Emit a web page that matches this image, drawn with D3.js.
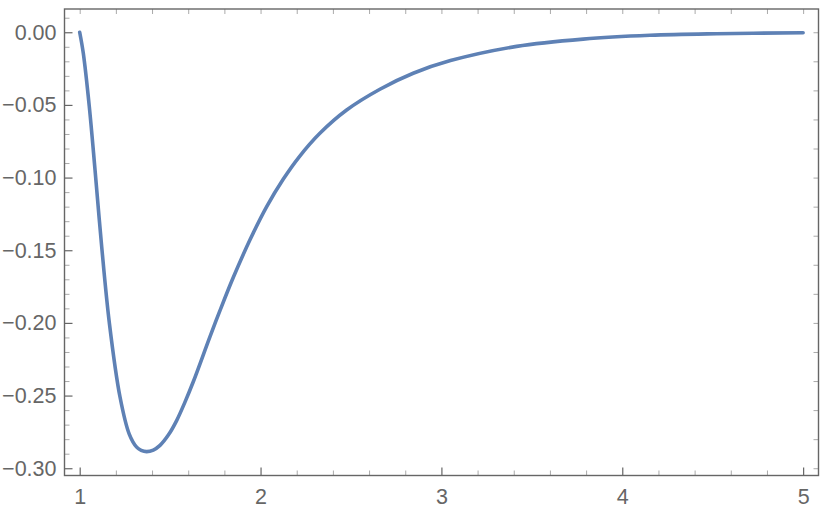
<!DOCTYPE html>
<meta charset="utf-8">
<script src="https://cdn.jsdelivr.net/npm/d3@7"></script>
<style>
    body { margin: 0; background: #fff; }
    .curve { fill: none; stroke: #5E81B5; stroke-width: 3.6px; stroke-linejoin: round; stroke-linecap: round; }
    .frame { fill: none; stroke: #666; stroke-width: 1.4px; }
    .major line { stroke: #666; stroke-width: 1.2px; }
    .minor line { stroke: #aaa; stroke-width: 1px; }
    .tick text { fill: #666; font: 21.5px "Liberation Sans", Arial, sans-serif; }
</style>
<body>
<script>
    // curve points
    var xVals = [1.000, 1.020, 1.053, 1.085, 1.122, 1.164, 1.223, 1.274, 1.315, 1.340, 1.370,
                 1.407, 1.444, 1.490, 1.536, 1.582, 1.628, 1.720, 1.776, 1.849, 1.941, 2.034, 2.126, 2.215,
                 2.328, 2.476, 2.660, 2.844, 3.050, 3.416, 3.784, 4.153, 4.521, 5.000];
    var yVals = [0.0000, -0.0145, -0.051, -0.095, -0.148, -0.200, -0.251, -0.2765, -0.2855, -0.2877, -0.2886,
                 -0.2875, -0.2843, -0.2772, -0.2672, -0.2545, -0.2405, -0.2096, -0.1914, -0.1688, -0.143, -0.120, -0.1010, -0.0855,
                 -0.0695, -0.0535, -0.0392, -0.0282, -0.0195, -0.0097, -0.0047, -0.0021, -0.0010, -0.0003];

    // ticks
    var xMajor = [1, 2, 3, 4, 5];
    var xMinor = [1.2, 1.4, 1.6, 1.8, 2.2, 2.4, 2.6, 2.8, 3.2, 3.4, 3.6, 3.8, 4.2, 4.4, 4.6, 4.8];
    var xTop = [1, 1.2, 1.4, 1.6, 1.8, 2, 2.2, 2.4, 2.6, 2.8, 3, 3.2, 3.4, 3.6, 3.8, 4, 4.2, 4.4, 4.6, 4.8, 5];
    var yMajor = [0, -0.05, -0.10, -0.15, -0.20, -0.25, -0.30];
    var yMinor = [0.01, -0.01, -0.02, -0.03, -0.04, -0.06, -0.07, -0.08, -0.09, -0.11, -0.12, -0.13, -0.14,
                  -0.16, -0.17, -0.18, -0.19, -0.21, -0.22, -0.23, -0.24, -0.26, -0.27, -0.28, -0.29];
    var yRight = [0, -0.02, -0.04, -0.06, -0.08, -0.10, -0.12, -0.14, -0.16, -0.18, -0.20,
                  -0.22, -0.24, -0.26, -0.28, -0.30];

    var width = 830,
        height = 515;

    var x = d3.scaleLinear().domain([0.916, 5.085]).range([64.5, 818.5]);
    var y = d3.scaleLinear().domain([-0.305, 0.016]).range([475.5, 9]);

    var svg = d3.select("body").append("svg")
        .attr("width", width)
        .attr("height", height);

    var fmtY = d3.format(".2f");

    // left axis
    svg.append("g").attr("class", "minor")
        .attr("transform", "translate(" + x.range()[0] + ",0)")
        .call(d3.axisLeft(y).tickValues(yMinor).tickSize(-5).tickFormat(""));
    svg.append("g").attr("class", "major")
        .attr("transform", "translate(" + x.range()[0] + ",0)")
        .call(d3.axisLeft(y).tickValues(yMajor).tickSize(-8).tickPadding(8).tickFormat(fmtY));

    // bottom axis
    svg.append("g").attr("class", "minor")
        .attr("transform", "translate(0," + y.range()[0] + ")")
        .call(d3.axisBottom(x).tickValues(xMinor).tickSize(-5).tickFormat(""));
    svg.append("g").attr("class", "major")
        .attr("transform", "translate(0," + y.range()[0] + ")")
        .call(d3.axisBottom(x).tickValues(xMajor).tickSize(-8).tickPadding(13).tickFormat(d3.format("d")));

    // top and right (no labels)
    svg.append("g").attr("class", "minor")
        .attr("transform", "translate(0," + y.range()[1] + ")")
        .call(d3.axisTop(x).tickValues(xTop).tickSize(-5).tickFormat(""));
    svg.append("g").attr("class", "minor")
        .attr("transform", "translate(" + x.range()[1] + ",0)")
        .call(d3.axisRight(y).tickValues(yRight).tickSize(-5).tickFormat(""));

    svg.selectAll(".domain").remove();

    // frame
    svg.append("rect")
        .attr("class", "frame")
        .attr("x", x.range()[0])
        .attr("y", y.range()[1])
        .attr("width", x.range()[1] - x.range()[0])
        .attr("height", y.range()[0] - y.range()[1]);

    var pts = xVals.map(function (d, i) { return [d, yVals[i]]; });

    var line = d3.line()
        .x(function (d) { return x(d[0]); })
        .y(function (d) { return y(d[1]); })
        .curve(d3.curveCatmullRom.alpha(0.5));

    svg.append("path")
        .datum(pts)
        .attr("class", "curve")
        .attr("d", line);
</script>
</body>
